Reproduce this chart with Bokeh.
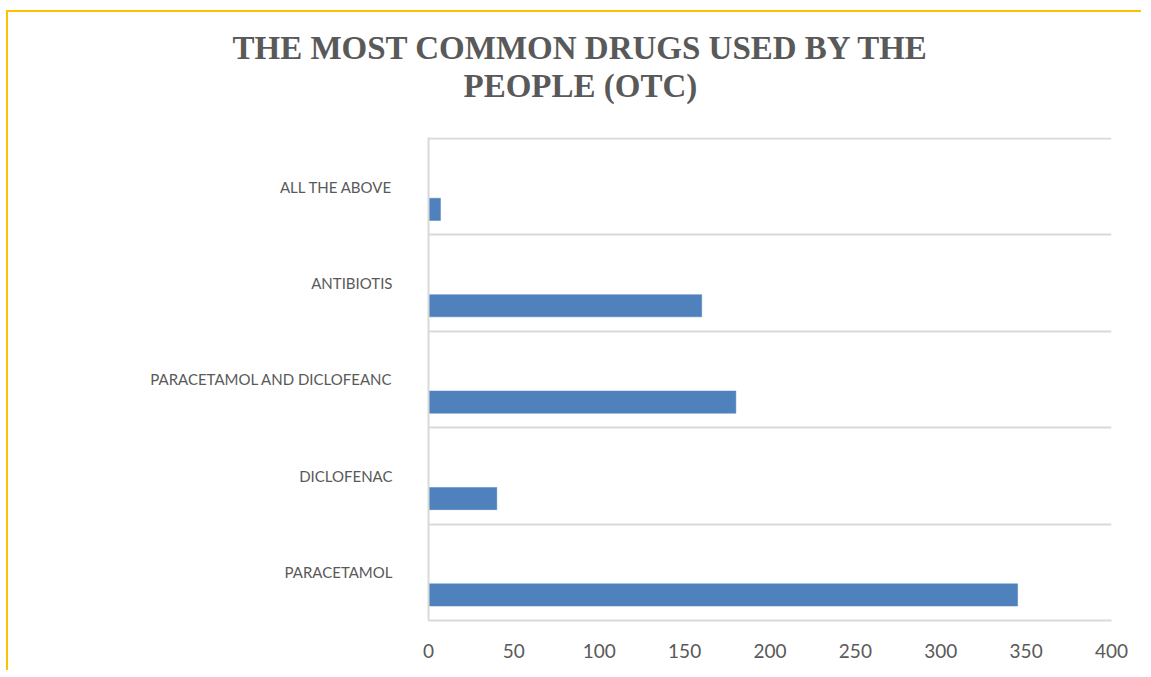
import numpy as np
from bokeh.plotting import figure
from bokeh.models import Range1d, FixedTicker, Title
from bokeh.embed import file_html
from bokeh.resources import INLINE

# ---- data ----
categories = ["PARACETAMOL", "DICLOFENAC", "PARACETAMOL AND DICLOFEANC", "ANTIBIOTIS", "ALL THE ABOVE"]
counts = [345, 40, 180, 160, 7]
x_ticks = [0, 50, 100, 150, 200, 250, 300, 350, 400]

title_line1 = "THE MOST COMMON DRUGS USED BY THE"
title_line2 = "PEOPLE (OTC)"

n = len(categories)
centers = np.arange(n) + 0.5
bar_y = centers - 0.235  # bar sits in the lower part of each band

p = figure(width=1135, height=660, output_backend="svg", toolbar_location=None,
           x_range=Range1d(0, 400), y_range=Range1d(0, n + 0.01),
           min_border_left=420, min_border_right=32, min_border_top=125, min_border_bottom=52)
p.margin = (10, 0, 0, 6)
p.styles = {"border-left": "2px solid #FFC000", "border-top": "2px solid #FFC000"}

p.hbar(y=bar_y, right=counts, left=0, height=0.23, fill_color="#4F81BD", line_color="#4F81BD", line_width=0.5)

# two-line title (a blank spacer keeps the block clear of the plot area)
tstyle = dict(align="left", text_font="Liberation Serif", text_font_style="bold",
              text_font_size="33px", text_color="#595959")
p.title = Title(text=title_line1, offset=-196, standoff=0, **tstyle)
p.add_layout(Title(text=" ", standoff=10, text_font_size="20px", text_color="white"), "above")
p.add_layout(Title(text=title_line2, offset=35, standoff=0, **tstyle), "above")

p.outline_line_color = None
p.background_fill_color = "white"
p.border_fill_color = "white"

# x axis
p.xaxis.ticker = FixedTicker(ticks=x_ticks)
p.xaxis.axis_line_color = "#D9D9D9"
p.xaxis.axis_line_width = 2
p.xaxis.major_tick_line_color = None
p.xaxis.minor_tick_line_color = None
p.xaxis.major_label_text_font = "Lato"
p.xaxis.major_label_text_font_size = "19px"
p.xaxis.major_label_text_color = "#595959"
p.xaxis.major_label_standoff = 17

# y axis (category labels at band centres)
p.yaxis.ticker = FixedTicker(ticks=list(centers))
p.yaxis.major_label_overrides = {float(c): cat for c, cat in zip(centers, categories)}
p.yaxis.axis_line_color = "#D9D9D9"
p.yaxis.axis_line_width = 2
p.yaxis.major_tick_line_color = None
p.yaxis.minor_tick_line_color = None
p.yaxis.major_label_text_font = "Lato"
p.yaxis.major_label_text_font_size = "15px"
p.yaxis.major_label_text_color = "#595959"
p.yaxis.major_label_standoff = 30

# grids
p.xgrid.visible = False
p.ygrid.ticker = FixedTicker(ticks=list(range(n + 1)))
p.ygrid.grid_line_color = "#D9D9D9"
p.ygrid.grid_line_width = 2

open("out.html", "w").write(file_html(p, INLINE))
